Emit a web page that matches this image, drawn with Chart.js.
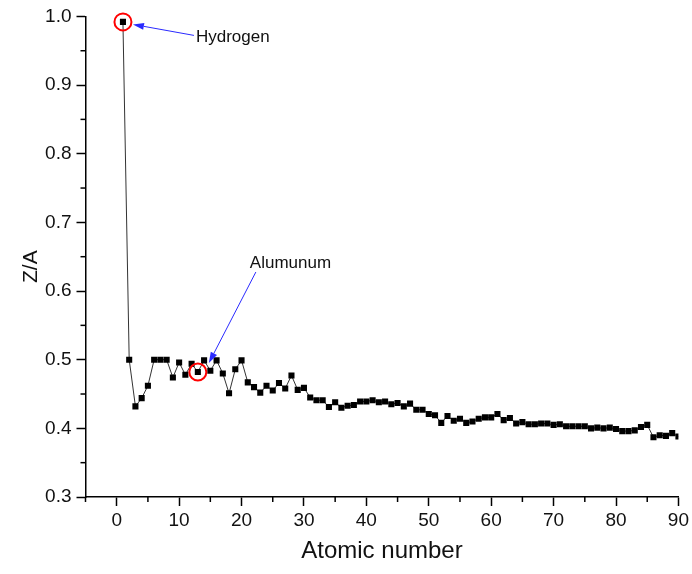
<!DOCTYPE html>
<html>
<head>
<meta charset="utf-8">
<script src="https://cdn.jsdelivr.net/npm/chart.js@4/dist/chart.umd.min.js"></script>
<style>
  html, body { margin: 0; padding: 0; background: #fff; }
  #wrap { width: 692px; height: 574px; position: relative; }
</style>
</head>
<body>
<div id="wrap"><canvas id="c" width="692" height="574"></canvas></div>
<script>
// ---- data ----
const atomicNumbers = [1,2,3,4,5,6,7,8,9,10,11,12,13,14,15,16,17,18,19,20,
  21,22,23,24,25,26,27,28,29,30,31,32,33,34,35,36,37,38,39,40,
  41,42,43,44,45,46,47,48,49,50,51,52,53,54,55,56,57,58,59,60,
  61,62,63,64,65,66,67,68,69,70,71,72,73,74,75,76,77,78,79,80,
  81,82,83,84,85,86,87,88,89,90];
const zOverA = [0.992,0.500,0.432,0.444,0.462,0.500,0.500,0.500,0.474,0.496,
  0.478,0.494,0.482,0.499,0.484,0.499,0.480,0.451,0.486,0.499,
  0.467,0.460,0.452,0.462,0.455,0.466,0.458,0.477,0.456,0.459,
  0.445,0.441,0.441,0.431,0.438,0.430,0.433,0.434,0.439,0.439,
  0.441,0.438,0.439,0.435,0.437,0.432,0.436,0.427,0.427,0.421,
  0.419,0.408,0.418,0.411,0.414,0.408,0.410,0.414,0.416,0.416,
  0.421,0.412,0.415,0.407,0.409,0.406,0.406,0.407,0.407,0.405,
  0.406,0.403,0.403,0.403,0.403,0.400,0.401,0.400,0.401,0.399,
  0.396,0.396,0.397,0.402,0.405,0.387,0.390,0.389,0.393,0.388];
const annotations = [
  { label: 'Hydrogen', z: 1 },
  { label: 'Alumunum', z: 13 }
];
const xTitle = 'Atomic number';
const yTitle = 'Z/A';

const points = atomicNumbers.map((z, i) => ({ x: z, y: zOverA[i] }));

const FONT = '"Liberation Sans", Arial, sans-serif';
const isMajorY = v => Math.abs(v * 10 - Math.round(v * 10)) < 1e-6;
const isMajorX = v => Math.abs(v / 10 - Math.round(v / 10)) < 1e-6;

// minor ticks, y title + annotations
const extras = {
  id: 'extras',
  afterDraw(chart) {
    const ctx = chart.ctx;
    const xs = chart.scales.x, ys = chart.scales.y;
    const ca = chart.chartArea;
    ctx.save();
    ctx.strokeStyle = '#000';
    ctx.lineWidth = 1.5;
    xs.ticks.forEach(t => {
      if (!isMajorX(t.value)) {
        const px = xs.getPixelForValue(t.value);
        ctx.beginPath(); ctx.moveTo(px, ca.bottom); ctx.lineTo(px, ca.bottom + 5); ctx.stroke();
      }
    });
    ys.ticks.forEach(t => {
      if (!isMajorY(t.value)) {
        const py = ys.getPixelForValue(t.value);
        ctx.beginPath(); ctx.moveTo(ca.left, py); ctx.lineTo(ca.left - 5, py); ctx.stroke();
      }
    });

    // y axis title
    ctx.save();
    ctx.translate(31, (ca.top + ca.bottom) / 2 + 10);
    ctx.rotate(-Math.PI / 2);
    ctx.font = '21px ' + FONT;
    ctx.fillStyle = '#111';
    ctx.textAlign = 'center';
    ctx.textBaseline = 'middle';
    ctx.fillText(yTitle, 0, 0);
    ctx.restore();

    function arrow(x1, y1, x2, y2) {
      ctx.strokeStyle = '#2a2aff';
      ctx.fillStyle = '#2a2aff';
      ctx.lineWidth = 1;
      const ang = Math.atan2(y2 - y1, x2 - x1);
      const hl = 11, hw = 3.5;
      const bx = x2 - hl * Math.cos(ang), by = y2 - hl * Math.sin(ang);
      ctx.beginPath(); ctx.moveTo(x1, y1); ctx.lineTo(bx, by); ctx.stroke();
      ctx.beginPath();
      ctx.moveTo(x2, y2);
      ctx.lineTo(bx + hw * Math.sin(ang), by - hw * Math.cos(ang));
      ctx.lineTo(bx - hw * Math.sin(ang), by + hw * Math.cos(ang));
      ctx.closePath(); ctx.fill();
    }
    function circle(px, py) {
      ctx.strokeStyle = '#ff0000';
      ctx.lineWidth = 2;
      ctx.beginPath(); ctx.arc(px, py, 8.5, 0, Math.PI * 2); ctx.stroke();
    }
    ctx.font = '17px ' + FONT;
    ctx.textBaseline = 'alphabetic';
    ctx.textAlign = 'left';
    // Hydrogen
    {
      const a = annotations[0];
      const px = xs.getPixelForValue(a.z), py = ys.getPixelForValue(zOverA[atomicNumbers.indexOf(a.z)]);
      circle(px, py);
      arrow(px + 71, py + 13.5, px + 10, py + 2.5);
      ctx.fillStyle = '#111';
      ctx.fillText(a.label, px + 73, py + 20);
    }
    // Aluminium
    {
      const a = annotations[1];
      const px = xs.getPixelForValue(a.z), py = ys.getPixelForValue(zOverA[atomicNumbers.indexOf(a.z)]);
      circle(px, py);
      arrow(px + 58, py - 100, px + 11, py - 9);
      ctx.fillStyle = '#111';
      ctx.fillText(a.label, px + 52, py - 104);
    }
    ctx.restore();
  }
};

new Chart(document.getElementById('c'), {
  type: 'line',
  data: {
    datasets: [{
      data: points,
      borderColor: '#333',
      borderWidth: 1,
      pointStyle: 'rect',
      pointRadius: 4.3,
      pointBackgroundColor: '#000',
      pointBorderWidth: 0,
      tension: 0,
      fill: false
    }]
  },
  options: {
    responsive: false,
    animation: false,
    devicePixelRatio: 1,
    layout: { padding: { top: 16, right: 11.5, left: 0, bottom: 0 } },
    plugins: { legend: { display: false }, tooltip: { enabled: false } },
    scales: {
      x: {
        type: 'linear',
        min: -5, max: 90,
        afterFit: s => { s.height = 77; },
        border: { display: true, color: '#000', width: 1.5 },
        grid: {
          drawOnChartArea: false, drawTicks: true, tickLength: 9, tickWidth: 1.5,
          tickColor: c => isMajorX(c.tick.value) ? '#000' : 'rgba(0,0,0,0)'
        },
        ticks: {
          stepSize: 5, autoSkip: false, maxRotation: 0, padding: 3,
          color: '#111', font: { family: FONT, size: 19 },
          callback: v => isMajorX(v) ? String(Math.round(v)) : ''
        },
        title: { display: true, text: xTitle, color: '#111',
          font: { family: FONT, size: 24 }, padding: { top: 0, bottom: 8 } }
      },
      y: {
        type: 'linear',
        min: 0.3, max: 1.0,
        afterFit: s => { s.width = 85.5; },
        border: { display: true, color: '#000', width: 1.5 },
        grid: {
          drawOnChartArea: false, drawTicks: true, tickLength: 9, tickWidth: 1.5,
          tickColor: c => isMajorY(c.tick.value) ? '#000' : 'rgba(0,0,0,0)'
        },
        ticks: {
          stepSize: 0.05, autoSkip: false, padding: 5,
          color: '#111', font: { family: FONT, size: 19 },
          callback: v => isMajorY(v) ? v.toFixed(1) : ''
        },
        title: { display: false, text: yTitle }
      }
    }
  },
  plugins: [extras]
});
</script>
</body>
</html>
